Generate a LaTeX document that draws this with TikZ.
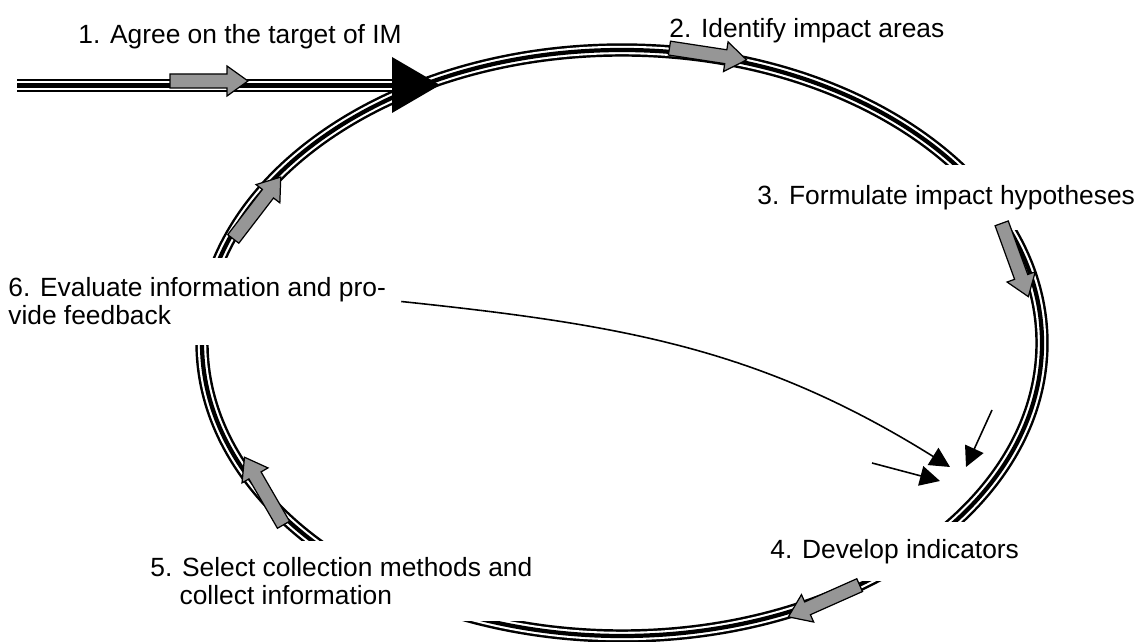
\documentclass[tikz,border=0pt]{standalone}
\usepackage{fontspec}
\setmainfont{Liberation Sans}
\usetikzlibrary{arrows.meta}
\definecolor{arrowgray}{RGB}{150,150,150}
\tikzset{
    loopline/.style = {draw=black,line width=7.6pt,postaction={draw=white,line width=4.8pt},postaction={draw=black,line width=2.4pt}},
    steplabel/.style = {anchor=base west,inner sep=0pt,align=left},
    stepbox/.style = {anchor=west,align=left,fill=white,inner xsep=0.3cm,inner ysep=0pt},
    thinarrow/.style = {-{Triangle[length=0.4cm,width=0.4cm]},line width=0.9pt},
    flowarrow/.pic = {\draw[fill=arrowgray,line width=0.7pt] (-0.78,-0.14) -- (0.36,-0.14) -- (0.36,-0.3) -- (0.78,0) -- (0.36,0.3) -- (0.36,0.14) -- (-0.78,0.14) -- cycle;}
}

\begin{document}
\begin{tikzpicture}[font=\fontsize{15pt}{16pt}\selectfont]
\useasboundingbox (0,0) rectangle (22.7,12.82);
% the cycle
\coordinate (c) at (12.44,5.96);
\draw[loopline] (c) ellipse [x radius=8.4,y radius=5.86];
% way in
\coordinate (entry) at (0.34,11.11);
\coordinate (join) at (7.9,11.11);
\coordinate (tip) at (8.8,11.12);
\draw[loopline] (entry) -- (join);
\fill (7.84,11.68) -- (tip) -- (7.84,10.56) -- cycle;
%
\node[steplabel] (s1) at (1.56,11.94) {1. Agree on the target of IM};
\node[steplabel] (s2) at (13.38,12.06) {2. Identify impact areas};
\node[stepbox,minimum height=1.3cm] (s3) at (14.84,8.87) {3. Formulate impact hypotheses};
\node[stepbox,minimum height=1.18cm] (s4) at (15.1,1.79) {4. Develop indicators};
\node[stepbox,minimum height=1.6cm] (s5) at (2.7,1.2) {5. Select collection methods and\\\hphantom{5.\ }collect information};
\node[stepbox,minimum height=1.74cm] (s6) at (-0.14,6.79) {6. Evaluate information and pro-\\vide feedback};
%
\pic[rotate=0] at (4.18,11.2) {flowarrow};
\pic[rotate=-8.7] at (14.16,11.74) {flowarrow};
\pic[rotate=-70] at (20.3,7.62) {flowarrow};
\pic[rotate=204] at (16.48,0.8) {flowarrow};
\pic[rotate=120] at (5.28,3.0) {flowarrow};
\pic[rotate=52.5] at (5.14,8.66) {flowarrow};
% feedback
\coordinate (f1) at (19.0,3.48);
\coordinate (f2a) at (17.44,3.56);
\coordinate (f2) at (18.8,3.2);
\coordinate (f3a) at (19.84,4.62);
\coordinate (f3) at (19.32,3.48);
\draw[thinarrow] (s6.east) to[out=-6,in=148] (f1);
\draw[thinarrow] (f2a) -- (f2);
\draw[thinarrow] (f3a) -- (f3);

\end{tikzpicture}
\end{document}
